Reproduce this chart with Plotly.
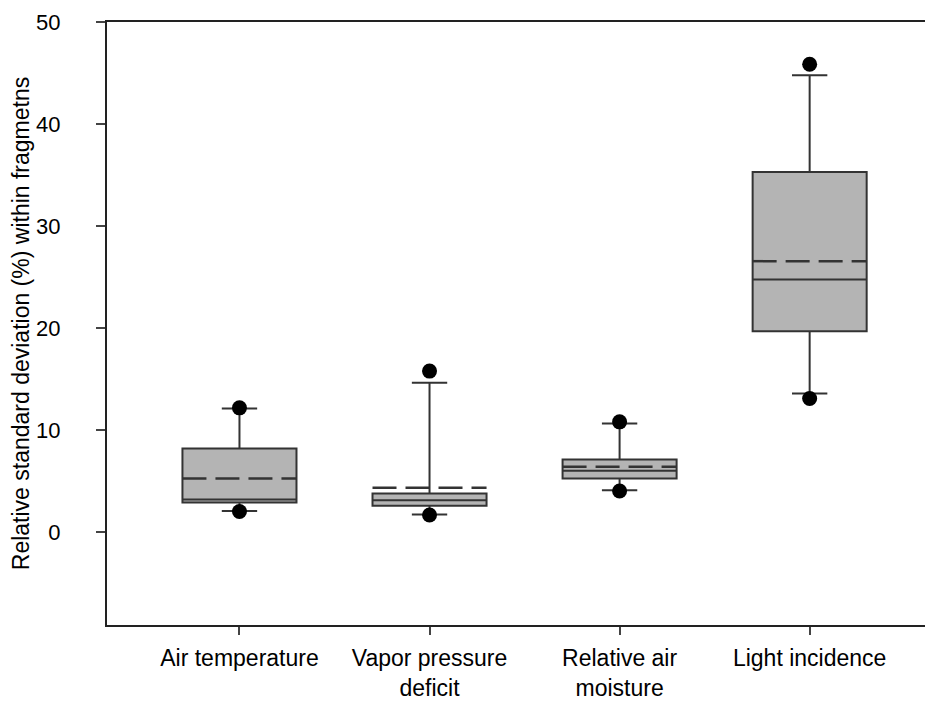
import plotly.graph_objects as go

categories = ["Air temperature", "Vapor pressure<br>deficit", "Relative air<br>moisture", "Light incidence"]
q1 = [2.94, 2.61, 5.29, 19.71]
median = [3.23, 3.16, 6.03, 24.77]
q3 = [8.23, 3.82, 7.15, 35.31]
mean = [5.29, 4.37, 6.42, 26.57]
lower_whisker = [2.09, 1.76, 4.14, 13.61]
upper_whisker = [12.14, 14.65, 10.67, 44.78]
outlier_low = [2.05, 1.70, 4.05, 13.12]
outlier_high = [12.20, 15.80, 10.83, 45.86]

BOX_WIDTH = 0.6
positions = list(range(len(categories)))

fig = go.Figure()
fig.add_trace(go.Box(
    x=positions,
    q1=q1, median=median, q3=q3,
    lowerfence=lower_whisker, upperfence=upper_whisker,
    width=BOX_WIDTH,
    whiskerwidth=0.31,
    fillcolor="#b4b4b4",
    line=dict(color="#333333", width=2),
    boxpoints=False,
    showlegend=False,
    hoverinfo="skip",
))

# mean lines (long dashes)
mx, my = [], []
for p, m in zip(positions, mean):
    mx += [p - BOX_WIDTH / 2, p + BOX_WIDTH / 2, None]
    my += [m, m, None]
fig.add_trace(go.Scatter(
    x=mx, y=my, mode="lines",
    line=dict(color="#333333", width=2.5, dash="24px,9px"),
    showlegend=False, hoverinfo="skip",
))

fig.add_trace(go.Scatter(
    x=positions + positions,
    y=outlier_low + outlier_high,
    mode="markers",
    marker=dict(color="black", size=15),
    showlegend=False,
    hoverinfo="skip",
))

font = "Liberation Sans, Arial, sans-serif"
fig.update_layout(
    width=925, height=694,
    margin=dict(l=99, r=0, t=14, b=77),
    plot_bgcolor="white", paper_bgcolor="white",
    font=dict(family=font, size=22, color="black"),
)
fig.update_xaxes(
    range=[-0.697, 3.649],
    tickvals=positions, ticktext=categories,
    showline=True, linecolor="#222", linewidth=2, mirror=True,
    ticks="outside", ticklen=8, tickwidth=1.5, tickcolor="#444",
    ticklabelstandoff=3,
    showgrid=False, zeroline=False, automargin=False,
    tickfont=dict(family=font, size=23),
)
fig.update_yaxes(
    range=[-9.07, 50],
    tickvals=[0, 10, 20, 30, 40, 50],
    showline=True, linecolor="#222", linewidth=2, mirror=False,
    ticks="outside", ticklen=9, tickwidth=1.5, tickcolor="#444",
    ticklabelstandoff=31,
    showgrid=False, zeroline=False, automargin=False,
    tickfont=dict(family=font, size=22),
    title=dict(text="Relative standard deviation (%) within fragmetns",
               font=dict(family=font, size=23), standoff=68),
)

fig.write_html("out.html")
